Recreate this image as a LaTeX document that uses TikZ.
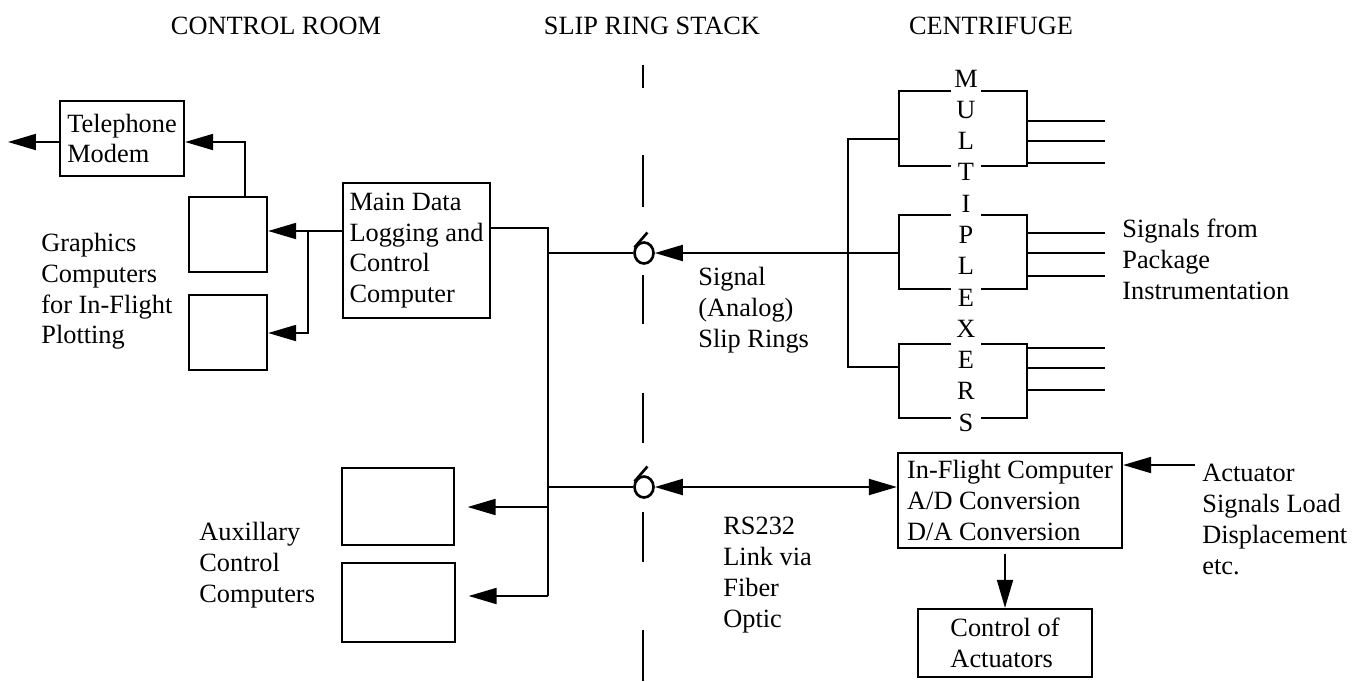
\documentclass[tikz,border=0pt]{standalone}
\usepackage{fontspec}
\setmainfont{Liberation Serif}
\usetikzlibrary{arrows.meta, shapes.geometric, calc}

\begin{document}
\begin{tikzpicture}[
    x=0.02cm, y=-0.02cm,
    every node/.style={font=\fontsize{15}{17.5}\selectfont},
    box/.style={rectangle, draw, line width=1.3pt, align=left, inner sep=2pt},
    mux/.style={rectangle, minimum width=2.56cm, minimum height=1.48cm},
    frame/.style={line width=1.3pt},
    ring/.style={ellipse, draw, line width=1.5pt, minimum width=0.38cm, minimum height=0.42cm, inner sep=0pt},
    note/.style={anchor=north west, align=left, inner sep=0pt},
    head/.style={anchor=base},
    wire/.style={line width=1.1pt},
    arrow/.style={wire, -{Triangle[length=0.56cm, width=0.32cm]}},
    darrow/.style={wire, {Triangle[length=0.56cm, width=0.32cm]}-{Triangle[length=0.56cm, width=0.32cm]}}
]
\useasboundingbox (0,0) rectangle (1360,681);

% Headings
\node[head] (hdRoom) at (276,34) {CONTROL ROOM};
\node[head] (hdStack) at (652,34) {SLIP RING STACK};
\node[head] (hdCent) at (991,34) {CENTRIFUGE};

% Slip ring stack
\foreach \a/\b in {65/88, 155/207, 275/324, 393/443, 512/562, 630/681}
    \draw[wire] (643,\a) -- (643,\b);
\node[ring] (ring1) at (644,253) {};
\node[ring] (ring2) at (644,487) {};
\draw[wire, line width=1.5pt] (ring1.150) -- ++(13,-15);
\draw[wire, line width=1.5pt] (ring2.150) -- ++(13,-15);

% Control room
\node[box, minimum width=2.48cm, minimum height=1.5cm] (tel) at (122,138.5) {Telephone\\Modem};
\node[box, minimum width=1.56cm, minimum height=1.5cm] (gfx1) at (228,234.5) {};
\node[box, minimum width=1.56cm, minimum height=1.5cm] (gfx2) at (228,332.5) {};
\node[box, minimum width=2.94cm, minimum height=2.7cm] (main) at (416.5,250.5) {Main Data\\Logging and\\Control\\Computer};
\node[box, minimum width=2.24cm, minimum height=1.54cm] (aux1) at (398,506.5) {};
\node[box, minimum width=2.26cm, minimum height=1.58cm] (aux2) at (398.5,602.5) {};

\node[note] (gfxtxt) at (41,233) {Graphics\\Computers\\for In-Flight\\Plotting};
\node[note] (auxtxt) at (199,522) {Auxillary\\Control\\Computers};

% Centrifuge
\foreach \n/\y in {1/128.5, 2/252, 3/381}
    \node[mux] (mux\n) at (963,\y) {};
\node[anchor=north, align=center, inner sep=0pt, font=\fontsize{15}{17.8}\selectfont] (muxtxt) at (966,69.5) {M\\U\\L\\T\\I\\P\\L\\E\\X\\E\\R\\S};
\node[box, minimum width=4.48cm, minimum height=1.9cm] (inflight) at (1010,500.5) {In-Flight Computer\\A/D Conversion\\D/A Conversion};
\node[box, minimum width=3.48cm, minimum height=1.36cm] (actctl) at (1005,643) {Control of\\Actuators};

\node[note] (sigtxt) at (698,267) {Signal\\(Analog)\\Slip Rings};
\node[note] (rstxt) at (723,517) {RS232\\Link via\\Fiber\\Optic};
\node[note] (pkgtxt) at (1122,219) {Signals from\\Package\\Instrumentation};
\node[note] (acttxt) at (1202,464) {Actuator\\Signals Load\\Displacement\\etc.};

% Corner points
\coordinate (telOut) at (8,142);
\coordinate (telIn) at (245,142);
\coordinate (gfxTop) at (308,231);
\coordinate (gfxBot) at (308,333);
\coordinate (busTop) at (548,228);
\coordinate (busSig) at (548,253);
\coordinate (busLink) at (548,487);
\coordinate (busAux1) at (548,507);
\coordinate (busAux2) at (548,596);
\coordinate (muxTop) at (848,139);
\coordinate (muxSig) at (848,253);
\coordinate (muxBot) at (848,367);
\coordinate (actIn) at (1195,465);
\coordinate (gapL) at (951,0);
\coordinate (gapR) at (981,0);

% Multiplexer frames, open round the letters
\foreach \n in {1,2,3} {
    \draw[frame] (gapL |- mux\n.north) -| (mux\n.south west) -- (gapL |- mux\n.south);
    \draw[frame] (gapR |- mux\n.north) -| (mux\n.south east) -- (gapR |- mux\n.south);
}
\foreach \n/\y in {1/121, 1/141, 1/163, 2/233, 2/253, 2/276, 3/348, 3/368, 3/390}
    \draw[wire] (mux\n.east |- 0,\y) -- ++(78,0);

% Arrows
\draw[arrow] (tel.west |- telOut) -- (telOut);
\draw[arrow] (gfx1.north -| telIn) |- (tel.east |- telIn);
\draw[arrow] (main.west |- gfxTop) -- (gfx1.east |- gfxTop);
\draw[arrow] (gfxTop) |- (gfx2.east |- gfxBot);
\draw[wire] (main.east |- busTop) -| (busAux2);
\draw[wire] (busSig) -- (ring1.west);
\draw[arrow, shorten >=0.25cm] (busAux1) -- (aux1.east |- busAux1);
\draw[arrow, shorten >=0.25cm] (busAux2) -- (aux2.east |- busAux2);
\draw[wire] (busLink) -- (ring2.west);
\draw[darrow] (ring2.east) -- (inflight.west |- ring2.east);
\draw[arrow] (muxSig) -- (ring1.east);
\draw[wire] (mux1.west |- muxTop) -| (muxBot) -- (mux3.west |- muxBot);
\draw[wire] (muxSig) -- (mux2.west |- muxSig);
\draw[arrow, shorten <=0.1cm] (actctl.north |- inflight.south) -- (actctl.north);
\draw[arrow] (actIn) -- (inflight.east |- actIn);

\end{tikzpicture}
\end{document}
